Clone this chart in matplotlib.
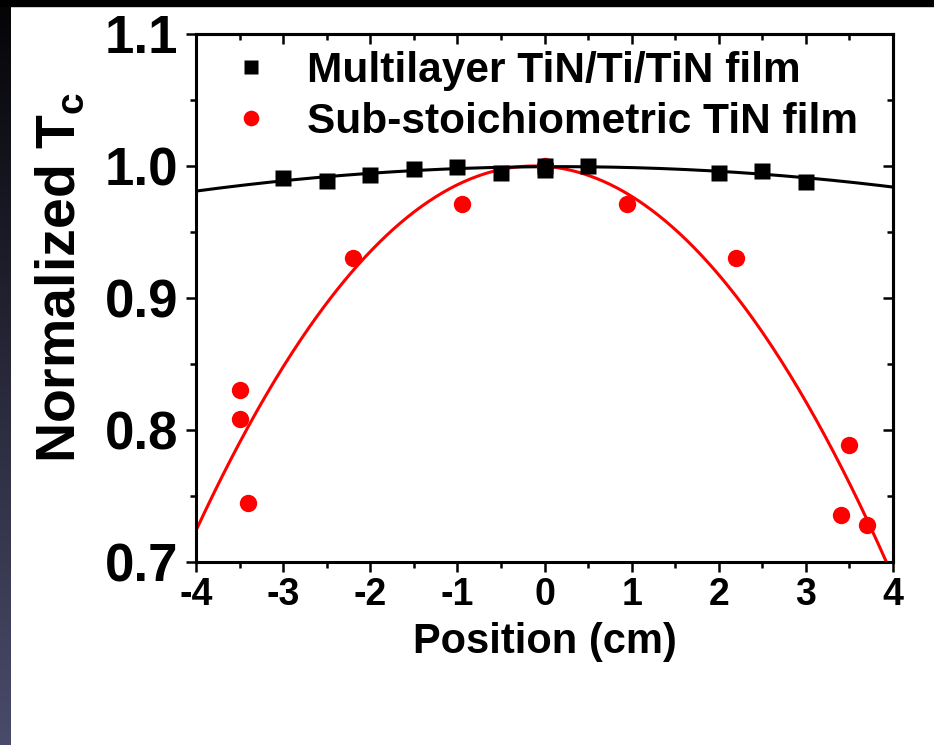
import numpy as np
import matplotlib
matplotlib.use("Agg")
from matplotlib import pyplot as plt
from matplotlib.ticker import MultipleLocator, FormatStrFormatter
from matplotlib.patches import Rectangle

plt.rcParams["font.family"] = ["Liberation Sans", "DejaVu Sans"]
plt.rcParams["font.weight"] = "bold"
plt.rcParams["axes.unicode_minus"] = False

# multilayer TiN/Ti/TiN film
pos_multi = [-3.0, -2.5, -2.0, -1.5, -1.0, -0.5, 0.0, 0.0, 0.5, 2.0, 2.5, 3.0]
tc_multi = [0.991, 0.989, 0.993, 0.998, 0.999, 0.995, 1.000, 0.997, 1.000, 0.995, 0.996, 0.988]

# sub-stoichiometric TiN film
pos_sub = [-3.5, -3.5, -3.4, -2.2, -0.95, 0.0, 0.95, 2.2, 3.4, 3.5, 3.7]
tc_sub = [0.830, 0.808, 0.745, 0.930, 0.971, 1.000, 0.971, 0.930, 0.736, 0.789, 0.728]

# parabolic fits: peak - k * (x - x0)^2
fit_multi = (0.9995, 0.00106, 0.18)
fit_sub = (1.000, 0.01834, -0.12)

fig = plt.figure(figsize=(9.34, 7.45), dpi=100)
ax = fig.add_axes([0.2099, 0.2456, 0.7462, 0.7088])

xs = np.linspace(-4, 4, 400)
peak, k, x0 = fit_sub
ax.plot(xs, peak - k * (xs - x0) ** 2, color="#ff0000", lw=2.2, zorder=2)
peak, k, x0 = fit_multi
ax.plot(xs, peak - k * (xs - x0) ** 2, color="black", lw=2.2, zorder=3)

ax.plot(pos_sub, tc_sub, "o", color="#ff0000", ms=12.5, mec="none", zorder=4,
        label="Sub-stoichiometric TiN film")
ax.plot(pos_multi, tc_multi, "s", color="black", ms=11.5, mec="none", zorder=5,
        label="Multilayer TiN/Ti/TiN film")

ax.set_xlim(-4, 4)
ax.set_ylim(0.7, 1.1)
ax.xaxis.set_major_locator(MultipleLocator(1))
ax.xaxis.set_minor_locator(MultipleLocator(0.5))
ax.yaxis.set_major_locator(MultipleLocator(0.1))
ax.yaxis.set_minor_locator(MultipleLocator(0.05))
ax.yaxis.set_major_formatter(FormatStrFormatter("%.1f"))

for s in ax.spines.values():
    s.set_linewidth(2.2)

# ticks point out on bottom/left, in on top/right
ax.tick_params(which="both", direction="out", width=1.8, top=False, right=False)
ax.tick_params(which="major", length=7)
ax.tick_params(which="minor", length=4)
ax.tick_params(axis="x", labelsize=27, pad=4)
ax.tick_params(axis="y", labelsize=38, pad=6)
sec_x = ax.secondary_xaxis("top")
sec_x.xaxis.set_major_locator(MultipleLocator(1))
sec_x.xaxis.set_minor_locator(MultipleLocator(0.5))
sec_x.tick_params(which="both", direction="in", width=1.8, labeltop=False)
sec_x.tick_params(which="major", length=7)
sec_x.tick_params(which="minor", length=4)
sec_x.spines["top"].set_linewidth(2.2)
sec_y = ax.secondary_yaxis("right")
sec_y.yaxis.set_major_locator(MultipleLocator(0.1))
sec_y.yaxis.set_minor_locator(MultipleLocator(0.05))
sec_y.tick_params(which="both", direction="in", width=1.8, labelright=False)
sec_y.tick_params(which="major", length=7)
sec_y.tick_params(which="minor", length=4)
sec_y.spines["right"].set_linewidth(2.2)

for lab in ax.get_xticklabels() + ax.get_yticklabels():
    lab.set_fontweight("bold")

ax.set_xlabel("Position (cm)", fontsize=30, fontweight="bold", labelpad=6)
ax.set_ylabel(r"Normalized T$_\mathregular{c}$", fontsize=40, fontweight="bold")
ax.yaxis.set_label_coords(-0.157, 0.54)

handles, labels = ax.get_legend_handles_labels()
ax.legend(handles[::-1], labels[::-1], loc="upper left", bbox_to_anchor=(-0.022, 1.02),
          frameon=False, prop={"weight": "bold", "size": 30.5},
          markerscale=0.9, handletextpad=0.33, labelspacing=0.25, borderaxespad=0.25)

# dark border along the top and left edges
fig.patches.append(Rectangle((0, 1 - 6 / 745), 1, 6 / 745, transform=fig.transFigure,
                             color="black", zorder=10))
edge = fig.add_axes([0, 0, 11 / 934, 1 - 6 / 745])
grad = np.linspace(0, 1, 256)[:, None]
edge.imshow(grad, aspect="auto", extent=(0, 1, 0, 1),
            cmap=matplotlib.colors.LinearSegmentedColormap.from_list("edge", ["#050508", "#4a4b6a"]),
            origin="upper")
edge.set_axis_off()

fig.savefig("out.png", dpi=100, facecolor="white")
